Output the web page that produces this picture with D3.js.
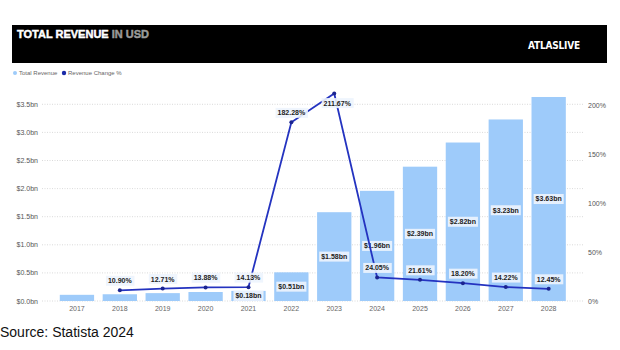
<!DOCTYPE html>
<html><head><meta charset="utf-8">
<script src="https://cdn.jsdelivr.net/npm/d3@7"></script>
<style>body{margin:0;background:#fff}svg{display:block}</style>
</head><body>
<svg id="c" width="620" height="350"></svg>
<script>
const years = ["2017","2018","2019","2020","2021","2022","2023","2024","2025","2026","2027","2028"];
const revenue = [0.11,0.12,0.14,0.16,0.18,0.51,1.58,1.96,2.39,2.82,3.23,3.63];
const revenueLabels = [null,null,null,null,"$0.18bn","$0.51bn","$1.58bn","$1.96bn","$2.39bn","$2.82bn","$3.23bn","$3.63bn"];
const change = [null,10.90,12.71,13.88,14.13,182.28,211.67,24.05,21.61,18.20,14.22,12.45];
const leftTicks = [0,0.5,1.0,1.5,2.0,2.5,3.0,3.5];
const leftTickLabels = ["$0.0bn","$0.5bn","$1.0bn","$1.5bn","$2.0bn","$2.5bn","$3.0bn","$3.5bn"];
const rightTicks = [0,50,100,150,200];
const rightTickLabels = ["0%","50%","100%","150%","200%"];

const svg = d3.select("#c");
const F = "Liberation Sans, Arial, sans-serif";

// header
svg.append("rect").attr("x",12).attr("y",25).attr("width",595).attr("height",38).attr("fill","#000");
const t = svg.append("text").attr("x",17).attr("y",38).attr("font-family",F).attr("font-weight","900").attr("font-size",11)
  .attr("stroke-width",0.45);
t.append("tspan").attr("fill","#fff").attr("stroke","#fff").text("TOTAL REVENUE");
t.append("tspan").attr("fill","#9a9a9a").attr("stroke","#9a9a9a").text(" IN USD");
svg.append("text").attr("x",528).attr("y",49).attr("font-family","DejaVu Sans Condensed, Liberation Sans Narrow, sans-serif")
  .attr("font-weight","bold").attr("font-size",10).attr("fill","#fff").attr("letter-spacing",-0.2).text("ATLASLIVE");

// legend
svg.append("circle").attr("cx",15).attr("cy",73).attr("r",2).attr("fill","#9ecbfa");
svg.append("text").attr("x",19).attr("y",75).attr("font-family",F).attr("font-size",6).attr("fill","#666").text("Total Revenue");
svg.append("circle").attr("cx",64).attr("cy",73).attr("r",2.2).attr("fill","#1a2aa8");
svg.append("text").attr("x",68).attr("y",75).attr("font-family",F).attr("font-size",6).attr("fill","#666").text("Revenue Change %");

const x = d3.scaleBand().domain(years).range([55.5,570.1]).paddingInner(0.2).paddingOuter(0.1);
const yL = d3.scaleLinear().domain([0,3.5]).range([301,104.3]);
const yR = d3.scaleLinear().domain([0,200]).range([301,105]);

// grid + left axis
const g = svg.append("g");
leftTicks.forEach((v,i)=>{
  g.append("line").attr("x1",42).attr("x2",583).attr("y1",yL(v)).attr("y2",yL(v))
   .attr("stroke","#d0d0d0").attr("stroke-width",0.8).attr("stroke-dasharray","1,1.5");
  g.append("text").attr("x",38).attr("y",yL(v)+2.5).attr("text-anchor","end").attr("font-family",F)
   .attr("font-size",7).attr("fill","#555").text(leftTickLabels[i]);
});
rightTicks.forEach((v,i)=>{
  g.append("text").attr("x",588).attr("y",yR(v)+2.5).attr("font-family",F)
   .attr("font-size",7).attr("fill","#555").text(rightTickLabels[i]);
});
years.forEach(yv=>{
  g.append("text").attr("x",x(yv)+x.bandwidth()/2).attr("y",311).attr("text-anchor","middle")
   .attr("font-family",F).attr("font-size",7).attr("fill","#666").text(yv);
});

// bars
svg.append("g").selectAll("rect").data(years).join("rect")
  .attr("x",d=>x(d)).attr("width",x.bandwidth())
  .attr("y",(d,i)=>yL(revenue[i])).attr("height",(d,i)=>yL(0)-yL(revenue[i]))
  .attr("fill","#9ecbfa");

// bar labels
function labelBox(parent, cx, cy, txt){
  const gg = parent.append("g");
  const tx = gg.append("text").attr("x",cx).attr("y",cy+2.5).attr("text-anchor","middle")
    .attr("font-family",F).attr("font-weight","bold").attr("font-size",7).attr("fill","#222").text(txt);
  const bb = tx.node().getBBox();
  gg.insert("rect","text").attr("x",bb.x-2).attr("y",cy-5).attr("width",bb.width+4).attr("height",10)
    .attr("fill","#edf4fd").attr("opacity",0.9);
}
const bl = svg.append("g");
years.forEach((yv,i)=>{
  if(!revenueLabels[i]) return;
  labelBox(bl, x(yv)+x.bandwidth()/2, (yL(0)+yL(revenue[i]))/2, revenueLabels[i]);
});

// line
const pts = years.map((yv,i)=>({yv,v:change[i]})).filter(d=>d.v!==null);
svg.append("path").datum(pts)
  .attr("d",d3.line().x(d=>x(d.yv)+x.bandwidth()/2).y(d=>yR(d.v)))
  .attr("fill","none").attr("stroke","#2433c0").attr("stroke-width",1.8);
svg.append("g").selectAll("circle").data(pts).join("circle")
  .attr("cx",d=>x(d.yv)+x.bandwidth()/2).attr("cy",d=>yR(d.v)).attr("r",2).attr("fill","#1a2490");

const pl = svg.append("g");
pts.forEach(d=>{
  const py = yR(d.v);
  const ly = py - 10 < 100 ? py + 9.5 : py - 9.5;
  labelBox(pl, x(d.yv)+x.bandwidth()/2 + (py-10<100?3:0), ly, d.v.toFixed(2)+"%");
});

// source
svg.append("text").attr("x",0).attr("y",337).attr("font-family",F).attr("font-size",14).attr("fill","#111").text("Source: Statista 2024");
</script>
</body></html>
